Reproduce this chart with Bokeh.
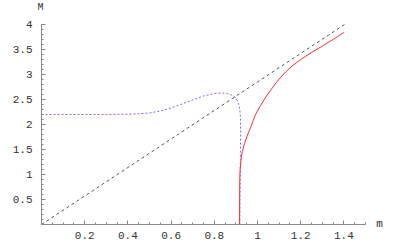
from bokeh.plotting import figure
from bokeh.models import Range1d, FixedTicker, CustomJSTickFormatter, Label, LinearAxis
from bokeh.embed import file_html
from bokeh.resources import INLINE

# diagonal reference line
diag_m = [0.0, 1.41]
diag_M = [0.0, 4.02]

# blue dotted branch
blue_m = [0.0, 0.1, 0.2, 0.3, 0.4, 0.45, 0.5, 0.55, 0.6, 0.65, 0.7, 0.75, 0.8, 0.83,
          0.86, 0.88, 0.895, 0.905, 0.913, 0.918, 0.921, 0.922, 0.921, 0.92, 0.919, 0.918]
blue_M = [2.2, 2.2, 2.2, 2.2, 2.205, 2.215, 2.23, 2.27, 2.33, 2.41, 2.49, 2.57, 2.62, 2.63,
          2.62, 2.59, 2.55, 2.49, 2.4, 2.3, 2.15, 1.85, 1.45, 1.0, 0.5, 0.0]

# red solid branch
red_m = [0.917, 0.9172, 0.9176, 0.918, 0.919, 0.921, 0.923, 0.926, 0.93, 0.935, 0.94,
         0.95, 0.96, 0.97, 0.98, 0.99, 1.01, 1.04, 1.07, 1.1, 1.13, 1.16, 1.2, 1.25,
         1.3, 1.35, 1.4]
red_M = [0.0, 0.5, 0.75, 0.9, 1.05, 1.17, 1.27, 1.37, 1.46, 1.55, 1.62,
         1.75, 1.86, 1.96, 2.08, 2.19, 2.35, 2.56, 2.74, 2.91, 3.05, 3.17, 3.3, 3.44,
         3.57, 3.70, 3.84]

x_ticks = [0.2, 0.4, 0.6, 0.8, 1.0, 1.2, 1.4]
y_ticks = [0.5, 1.0, 1.5, 2.0, 2.5, 3.0, 3.5, 4.0]
x_minor = [0.05 * i for i in range(1, 31)]
y_minor = [0.1 * i for i in range(1, 41)]

p = figure(output_backend="svg", toolbar_location=None,
           width=394, height=244, min_border=0,
           x_axis_type=None, y_axis_type=None,
           x_range=Range1d(-41 / 216, 353 / 216), y_range=Range1d(-0.4, 4.48))
p.outline_line_color = None
p.grid.visible = False
p.background_fill_color = "white"
p.border_fill_color = "white"

p.line(diag_m, diag_M, line_color="#555555", line_width=1, line_dash="3 3")
p.line(blue_m, blue_M, line_color="#7070ff", line_width=1, line_dash="2 2")
p.line(red_m, red_M, line_color="#ff3030", line_width=1)

fmt = CustomJSTickFormatter(code="return String(Math.round(tick*100)/100);")
xaxis = LinearAxis(fixed_location=0, bounds=(0, 1.5),
                   ticker=FixedTicker(ticks=x_ticks, minor_ticks=x_minor), formatter=fmt)
yaxis = LinearAxis(fixed_location=0, bounds=(0, 4),
                   ticker=FixedTicker(ticks=y_ticks, minor_ticks=y_minor), formatter=fmt)
for ax in (xaxis, yaxis):
    ax.axis_line_color = "#888888"
    ax.major_tick_line_color = "#888888"
    ax.minor_tick_line_color = "#888888"
    ax.major_tick_in = 4
    ax.major_tick_out = 0
    ax.minor_tick_in = 2
    ax.minor_tick_out = 0
    ax.major_label_text_font = "Liberation Mono"
    ax.major_label_text_font_size = "11px"
    ax.major_label_text_color = "#333333"
xaxis.major_label_standoff = 7
yaxis.major_label_standoff = 9
p.add_layout(xaxis, "below")
p.add_layout(yaxis, "left")

p.add_layout(Label(x=0, y=4, x_offset=-1, y_offset=17, text="M", text_align="center",
                   text_baseline="middle", text_font="Liberation Mono",
                   text_font_size="10px", text_color="#333333"))
p.add_layout(Label(x=1.5, y=0, x_offset=14, y_offset=1, text="m", text_align="center",
                   text_baseline="middle", text_font="Liberation Mono",
                   text_font_size="11px", text_color="#333333"))

open("out.html", "w").write(file_html(p, INLINE))
